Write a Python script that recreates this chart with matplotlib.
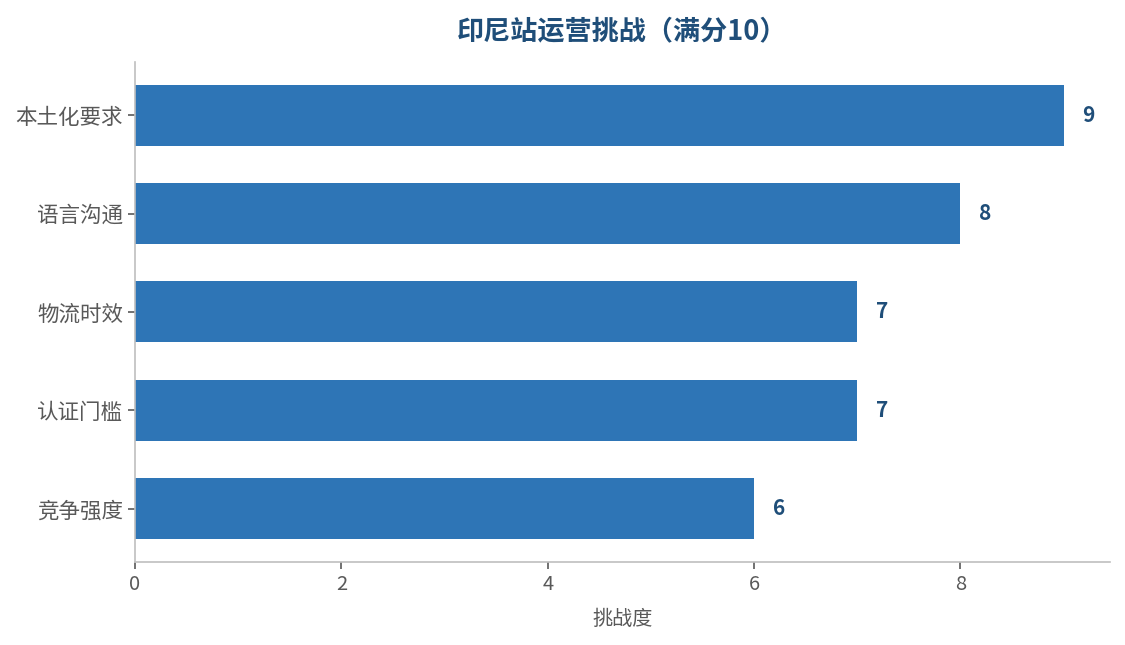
import matplotlib
matplotlib.use("Agg")
import matplotlib.pyplot as plt

plt.rcParams['font.family'] = ['Noto Sans CJK SC', 'DejaVu Sans']

categories = ["竞争强度", "认证门槛", "物流时效", "语言沟通", "本土化要求"]
values = [6, 7, 7, 8, 9]
title = "印尼站运营挑战（满分10）"
xlabel = "挑战度"

fig = plt.figure(figsize=(11.25, 6.45), dpi=100)
ax = fig.add_axes([0.12, 0.1287, 0.8667, 0.7753])

bars = ax.barh(categories, values, height=0.62, color="#2E75B6")
for b, v in zip(bars, values):
    ax.text(v + 0.18, b.get_y() + b.get_height() / 2, f"{v}", va="center", ha="left",
            fontsize=15, fontweight="bold", color="#1F4E79")

ax.set_xlim(0, 9.45)
ax.set_xticks([0, 2, 4, 6, 8])
ax.set_title(title, fontsize=19.5, fontweight="bold", color="#1F4E79", pad=16)
ax.set_xlabel(xlabel, fontsize=14.5, color="#595959", labelpad=10)
for s in ["top", "right"]:
    ax.spines[s].set_visible(False)
for s in ["left", "bottom"]:
    ax.spines[s].set_color("#BFBFBF")
    ax.spines[s].set_linewidth(1.2)
ax.tick_params(axis="both", colors="#595959", length=5, width=1.2)
ax.tick_params(axis="x", labelsize=14.5)
ax.tick_params(axis="y", labelsize=15.5)

fig.savefig("out.png", dpi=100)
